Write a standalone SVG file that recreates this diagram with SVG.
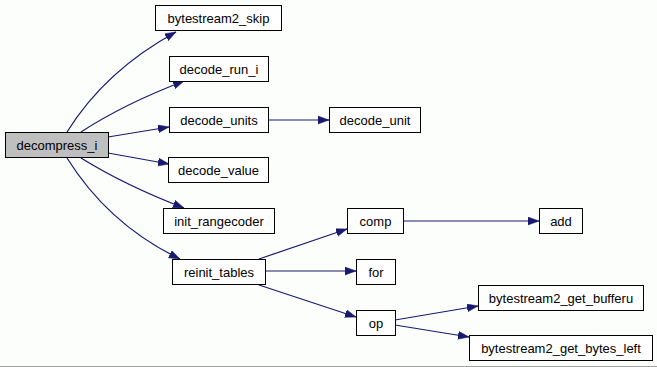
<svg xmlns="http://www.w3.org/2000/svg" width="657" height="367" viewBox="0 0 657 367">
  <style>
    .node rect { fill: #ffffff; stroke: #000000; stroke-width: 1; }
    .node.root rect { fill: #bfbfbf; }
    .node text { font-family: "Liberation Sans", Arial, sans-serif; font-size: 13px; fill: #000000; text-anchor: middle; }
    .edge { fill: none; stroke: #191970; stroke-width: 1.2; marker-end: url(#arrow); }
  </style>
  <defs>
    <marker id="arrow" markerUnits="userSpaceOnUse" markerWidth="12" markerHeight="9" refX="11" refY="4" orient="auto">
      <polygon points="0,0 11,4 0,8" fill="#191970" stroke="#191970" stroke-width="0.5"/>
    </marker>
  </defs>
  <rect x="0" y="0" width="657" height="367" fill="#fcfefc"/>
  <line x1="0" y1="366.5" x2="657" y2="366.5" stroke="#a0a0a0" stroke-width="1"/>

  <g id="edges">
    <path class="edge" d="M67,132 C92,92 128,58 176,32"/>
    <path class="edge" d="M81,132 C110,113 145,96 184,81"/>
    <path class="edge" d="M108,137 L169,127"/>
    <path class="edge" d="M108,153 L169,164"/>
    <path class="edge" d="M81,158 C110,176 145,193 184,208"/>
    <path class="edge" d="M67,158 C92,198 128,234 180,259"/>
    <path class="edge" d="M268,120 L329,120"/>
    <path class="edge" d="M259,259 L347,229"/>
    <path class="edge" d="M265,271 L356,271"/>
    <path class="edge" d="M259,285 L356,317"/>
    <path class="edge" d="M403,221 L539,221"/>
    <path class="edge" d="M395,320 L478,306"/>
    <path class="edge" d="M395,325 L469,337"/>
  </g>

  <g id="decompress_i" class="node root">
    <rect x="5.5" y="132.5" width="103" height="25"/>
    <text x="57" y="150">decompress_i</text>
  </g>
  <g id="bytestream2_skip" class="node">
    <rect x="155.5" y="5.5" width="126" height="25"/>
    <text x="218.5" y="23">bytestream2_skip</text>
  </g>
  <g id="decode_run_i" class="node">
    <rect x="169.5" y="56.5" width="99" height="25"/>
    <text x="219" y="74">decode_run_i</text>
  </g>
  <g id="decode_units" class="node">
    <rect x="169.5" y="107.5" width="99" height="25"/>
    <text x="219" y="125">decode_units</text>
  </g>
  <g id="decode_value" class="node">
    <rect x="168.5" y="157.5" width="100" height="25"/>
    <text x="218.5" y="175">decode_value</text>
  </g>
  <g id="init_rangecoder" class="node">
    <rect x="163.5" y="208.5" width="111" height="25"/>
    <text x="219" y="226">init_rangecoder</text>
  </g>
  <g id="reinit_tables" class="node">
    <rect x="172.5" y="259.5" width="93" height="25"/>
    <text x="219" y="277">reinit_tables</text>
  </g>
  <g id="decode_unit" class="node">
    <rect x="329.5" y="107.5" width="91" height="25"/>
    <text x="375" y="125">decode_unit</text>
  </g>
  <g id="comp" class="node">
    <rect x="347.5" y="208.5" width="56" height="25"/>
    <text x="375.5" y="226">comp</text>
  </g>
  <g id="add" class="node">
    <rect x="539.5" y="208.5" width="43" height="25"/>
    <text x="561" y="226">add</text>
  </g>
  <g id="for" class="node">
    <rect x="356.5" y="259.5" width="39" height="25"/>
    <text x="376" y="277">for</text>
  </g>
  <g id="op" class="node">
    <rect x="356.5" y="310.5" width="39" height="25"/>
    <text x="376" y="328">op</text>
  </g>
  <g id="bytestream2_get_bufferu" class="node">
    <rect x="478.5" y="285.5" width="165" height="25"/>
    <text x="561" y="303">bytestream2_get_bufferu</text>
  </g>
  <g id="bytestream2_get_bytes_left" class="node">
    <rect x="469.5" y="335.5" width="183" height="25"/>
    <text x="561" y="353">bytestream2_get_bytes_left</text>
  </g>
</svg>
